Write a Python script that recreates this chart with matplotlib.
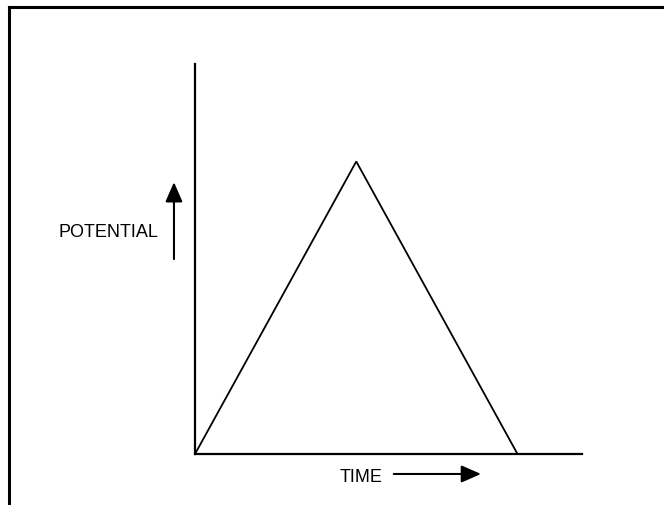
import matplotlib
matplotlib.use('Agg')
import matplotlib.pyplot as plt
from matplotlib.lines import Line2D

# schematic triangle wave: potential vs time
time = [0.0, 0.5, 1.0]
potential = [0.0, 3.0, 0.0]
x_label = 'TIME'
y_label = 'POTENTIAL'

plt.rcParams['font.family'] = ['Liberation Sans', 'DejaVu Sans']

fig = plt.figure(figsize=(6.64, 5.06), dpi=100)
ax = fig.add_axes([0.2937, 0.1008, 0.5828, 0.7708])

ax.plot(time, potential, color='black', linewidth=1.3, solid_joinstyle='miter')
ax.set_xlim(0, 1.2)
ax.set_ylim(0, 4)
for side in ['top', 'right']:
    ax.spines[side].set_visible(False)
for side in ['left', 'bottom']:
    ax.spines[side].set_linewidth(1.6)
ax.set_xticks([])
ax.set_yticks([])

# outer frame (top and left only, rest is cut off)
fig.add_artist(Line2D([0.0136, 1.0], [0.984, 0.984], transform=fig.transFigure,
                      color='black', linewidth=2.2))
fig.add_artist(Line2D([0.0136, 0.0136], [0.0, 0.984], transform=fig.transFigure,
                      color='black', linewidth=2.2))

# axis labels with arrows
fig.text(0.164, 0.5415, y_label, ha='center', va='center', fontsize=13)
ax.annotate('', xy=(0.262, 0.638), xytext=(0.262, 0.486),
            xycoords='figure fraction', textcoords='figure fraction',
            arrowprops=dict(arrowstyle='-|>,head_length=0.8,head_width=0.35',
                            mutation_scale=15, color='black', linewidth=1.5,
                            shrinkA=0, shrinkB=0))
fig.text(0.5437, 0.0573, x_label, ha='center', va='center', fontsize=13)
ax.annotate('', xy=(0.7244, 0.0613), xytext=(0.593, 0.0613),
            xycoords='figure fraction', textcoords='figure fraction',
            arrowprops=dict(arrowstyle='-|>,head_length=0.8,head_width=0.35',
                            mutation_scale=15, color='black', linewidth=1.5,
                            shrinkA=0, shrinkB=0))

fig.savefig('out.png', dpi=100)
